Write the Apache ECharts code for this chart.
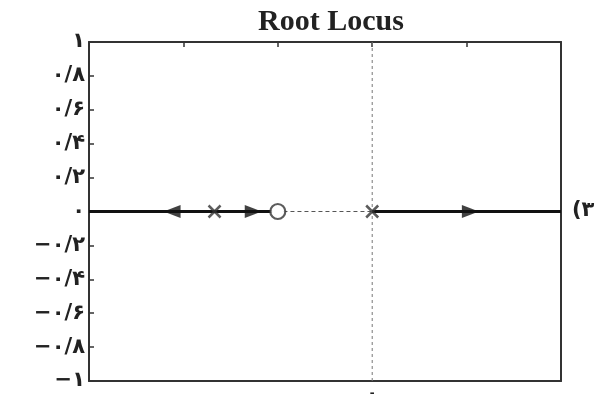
<!DOCTYPE html>
<html><head><meta charset="utf-8">
<script src="https://cdn.jsdelivr.net/npm/echarts@6/dist/echarts.min.js"></script>
<style>html,body{margin:0;padding:0;background:#fff}#c{width:597px;height:394px}</style>
</head><body><div id="c"></div>
<script>
// ---- data ----
const titleText = 'Root Locus';
const xMin = -3, xMax = 2;
const yMin = -1, yMax = 1;
const yTickLabels = ['−۱','−۰/۸','−۰/۶','−۰/۴','−۰/۲','۰','۰/۲','۰/۴','۰/۶','۰/۸','۱'];
const xTickLabels = {'0': '۰'};
const poles = [[-1.67, 0], [0, 0]];
const zeros = [[-1, 0]];
const locusLeft = [[-3, 0], [-1.06, 0]];
const locusDashed = [[-0.94, 0], [0, 0]];
const locusRight = [[0, 0], [2, 0]];
const arrowsLeft = [[-2.12, 0]];
const arrowsRight = [[-1.26, 0], [1.04, 0]];
const imagAxis = [[0, -1], [0, 1]];
const sideText = '(۳';

const chart = echarts.init(document.getElementById('c'), null, {renderer: 'canvas'});
const axisFont = {fontFamily: 'DejaVu Sans', fontSize: 21, fontWeight: 'bold', color: '#222'};
chart.setOption({
  animation: false,
  title: {text: titleText, left: 326, top: 2, textAlign: 'center',
    textStyle: {fontFamily: 'Liberation Serif', fontWeight: 'bold', fontSize: 30, color: '#222'}},
  grid: {left: 89, right: 36, top: 42, bottom: 13, containLabel: false, outerBoundsMode: 'none'},
  xAxis: [
    {type: 'value', min: xMin, max: xMax, interval: 1, position: 'bottom',
     axisLine: {onZero: false, lineStyle: {color: '#333', width: 2}}, axisTick: {show: false},
     splitLine: {show: false},
     axisLabel: Object.assign({margin: 3, formatter: v => xTickLabels[String(v)] || ''}, axisFont)},
    {type: 'value', min: xMin, max: xMax, interval: 1, position: 'top',
     axisLine: {onZero: false, lineStyle: {color: '#333', width: 2}},
     axisTick: {inside: true, length: 5, lineStyle: {color: '#333', width: 1.5}},
     splitLine: {show: false}, axisLabel: {show: false}}
  ],
  yAxis: [
    {type: 'value', min: yMin, max: yMax, interval: 0.2, position: 'left',
     axisLine: {onZero: false, lineStyle: {color: '#333', width: 2}},
     axisTick: {inside: true, length: 5, lineStyle: {color: '#333', width: 1.5}},
     splitLine: {show: false},
     axisLabel: Object.assign({margin: 4, formatter: v => yTickLabels[Math.round((v - yMin) / 0.2)]}, axisFont)},
    {type: 'value', min: yMin, max: yMax, interval: 0.2, position: 'right',
     axisLine: {onZero: false, lineStyle: {color: '#333', width: 2}}, axisTick: {show: false},
     splitLine: {show: false}, axisLabel: {show: false}}
  ],
  series: [
    {type: 'line', data: imagAxis, symbol: 'none', z: 1,
     lineStyle: {color: '#777', width: 1, type: [3, 3]}},
    {type: 'line', data: locusDashed, symbol: 'none', z: 2,
     lineStyle: {color: '#555', width: 1, type: [4, 3]}},
    {type: 'line', data: locusLeft, symbol: 'none', z: 3,
     lineStyle: {color: '#111', width: 3}},
    {type: 'line', data: locusRight, symbol: 'none', z: 3,
     lineStyle: {color: '#111', width: 3}},
    {type: 'scatter', data: arrowsLeft, symbol: 'path://M10,0 L0,5 L10,10 Z', symbolSize: [17, 13], z: 5,
     itemStyle: {color: '#111'}},
    {type: 'scatter', data: arrowsRight, symbol: 'path://M0,0 L10,5 L0,10 Z', symbolSize: [17, 13], z: 5,
     itemStyle: {color: '#111'}},
    {type: 'scatter', data: poles, symbol: 'path://M0,0 L10,10 M10,0 L0,10', symbolSize: 12, z: 6,
     itemStyle: {color: 'none', borderColor: '#333', borderWidth: 2.5}},
    {type: 'scatter', data: zeros, symbol: 'circle', symbolSize: 15, z: 6,
     itemStyle: {color: '#fff', borderColor: '#333', borderWidth: 2.2}}
  ],
  graphic: [
    {type: 'text', left: 572, top: 200,
     style: {text: sideText, fontFamily: 'DejaVu Sans', fontSize: 21, fontWeight: 'bold', fill: '#222'}}
  ]
});
</script></body></html>
